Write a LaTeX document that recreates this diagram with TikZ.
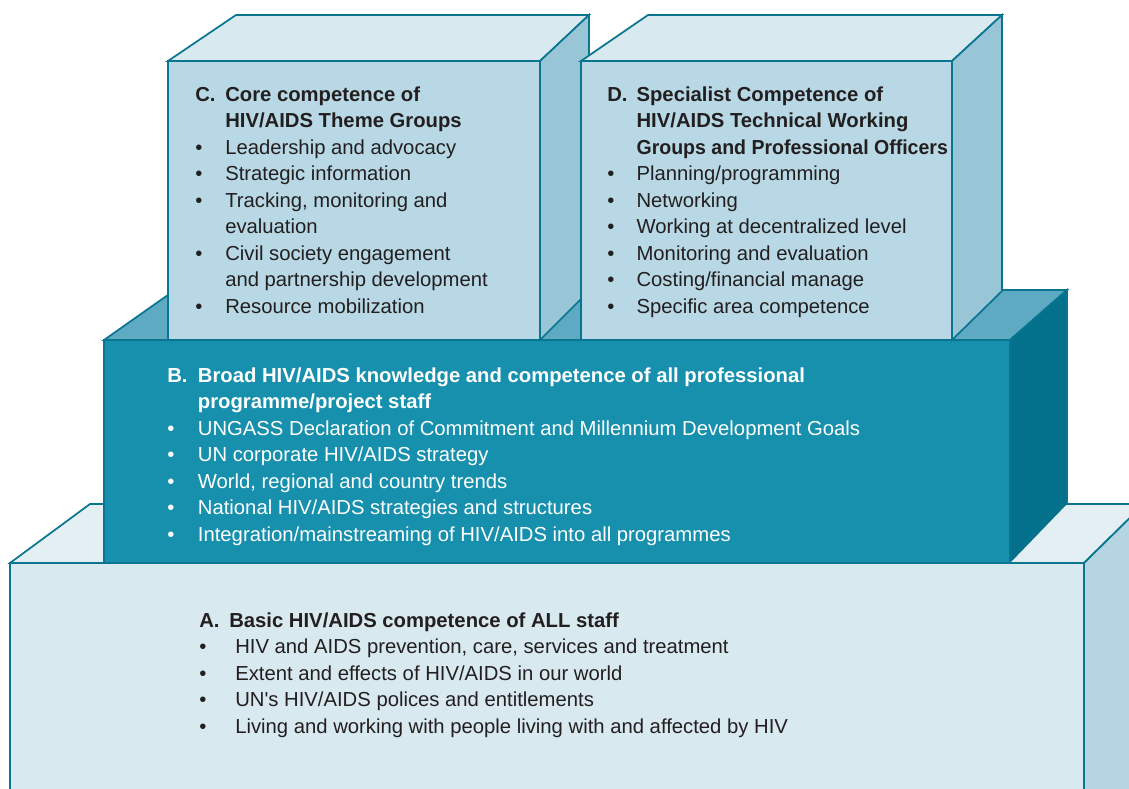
\documentclass[tikz,border=0pt]{standalone}
\usepackage{fontspec}
\setmainfont{Liberation Sans}
\usepackage{tikz}
\usepackage{graphicx}
\usepackage{xcolor}
\definecolor{ColLine}{RGB}{10,117,145}
\definecolor{ColAFront}{RGB}{216,233,240}
\definecolor{ColATop}{RGB}{228,239,244}
\definecolor{ColASide}{RGB}{180,213,225}
\definecolor{ColBFront}{RGB}{22,144,173}
\definecolor{ColBTop}{RGB}{94,170,195}
\definecolor{ColBSide}{RGB}{3,112,140}
\definecolor{ColCFront}{RGB}{183,216,228}
\definecolor{ColCTop}{RGB}{216,233,240}
\definecolor{ColCSide}{RGB}{152,198,214}
\definecolor{ColText}{RGB}{35,31,32}
\tikzstyle{Face}=[draw=ColLine,line width=1.3pt,line join=miter]
\tikzstyle{TextBox}=[anchor=base west,inner sep=0pt,text=ColText,
font=\fontsize{15.2}{19.9}\selectfont]
\newcommand{\Blt}{\textbullet}

\begin{document}
\begin{tikzpicture}[x=0.75pt,y=-0.75pt]
        \useasboundingbox(0,0)rectangle(1129,789);
        \clip(0,0)rectangle(1129,789);
        % A: base block
        \filldraw[Face,fill=ColAFront](10,563)rectangle(1084,800);
        \filldraw[Face,fill=ColATop](10,563)--(90,504)--(1144,504)--(1084,563)--cycle;
        \filldraw[Face,fill=ColASide](1084,563)--(1144,504)--(1144,800)--(1084,800)--cycle;
        % B: middle block
        \filldraw[Face,fill=ColBTop](104,340)--(175,290)--(1067,290)--(1010,340)--cycle;
        \fill[ColBSide](1010,340)--(1067,290)--(1067,504)--(1010,563)--cycle;
        \draw[Face](1010,563)--(1010,340)--(1067,290)--(1067,504);
        \filldraw[Face,fill=ColBFront](104,340)rectangle(1010,563);
        % C and D: top blocks
        \filldraw[Face,fill=ColCTop](168,61)--(236,15)--(589,15)--(540,61)--cycle;
        \filldraw[Face,fill=ColCSide](540,61)--(589,15)--(589,291)--(540,340)--cycle;
        \filldraw[Face,fill=ColCFront](168,61)rectangle(540,340);
        \filldraw[Face,fill=ColCTop](581,61)--(648,15)--(1002,15)--(952,61)--cycle;
        \filldraw[Face,fill=ColCSide](952,61)--(1002,15)--(1002,291)--(952,340)--cycle;
        \filldraw[Face,fill=ColCFront](581,61)rectangle(952,340);
        % texts
        \node[TextBox](textC)at(195,101){\begin{tabular}[t]{@{}p{22.5pt}@{}l@{}}
            \textbf{C.}&\textbf{Core competence of}\\
            &\textbf{HIV/AIDS Theme Groups}\\
            \Blt&Leadership and advocacy\\
            \Blt&Strategic information\\
            \Blt&Tracking, monitoring and\\
            &evaluation\\
            \Blt&Civil society engagement\\
            &and partnership development\\
            \Blt&Resource mobilization
        \end{tabular}};
        \node[TextBox](textD)at(607,101){\begin{tabular}[t]{@{}p{22pt}@{}l@{}}
            \textbf{D.}&\textbf{Specialist Competence of}\\
            &\textbf{HIV/AIDS Technical Working}\\
            &\scalebox{0.963}[1]{\textbf{Groups and Professional Officers}}\\
            \Blt&Planning/programming\\
            \Blt&Networking\\
            \Blt&Working at decentralized level\\
            \Blt&Monitoring and evaluation\\
            \Blt&Costing/financial manage\\
            \Blt&Specific area competence
        \end{tabular}};
        \node[TextBox,text=white](textB)at(167,382){\begin{tabular}[t]{@{}p{23pt}@{}l@{}}
            \textbf{B.}&\textbf{Broad HIV/AIDS knowledge and competence of all professional}\\
            &\textbf{programme/project staff}\\
            \Blt&UNGASS Declaration of Commitment and Millennium Development Goals\\
            \Blt&UN corporate HIV/AIDS strategy\\
            \Blt&World, regional and country trends\\
            \Blt&National HIV/AIDS strategies and structures\\
            \Blt&Integration/mainstreaming of HIV/AIDS into all programmes
        \end{tabular}};
        \node[TextBox](textA)at(199,627){\begin{tabular}[t]{@{}p{22.5pt}@{}l@{}}
            \textbf{A.}&\textbf{Basic HIV/AIDS competence of ALL staff}\\
            \Blt&\hspace{4.5pt}HIV and AIDS prevention, care, services and treatment\\
            \Blt&\hspace{4.5pt}Extent and effects of HIV/AIDS in our world\\
            \Blt&\hspace{4.5pt}UN\textquotesingle s HIV/AIDS polices and entitlements\\
            \Blt&\hspace{4.5pt}Living and working with people living with and affected by HIV
        \end{tabular}};
    \end{tikzpicture}
\end{document}
